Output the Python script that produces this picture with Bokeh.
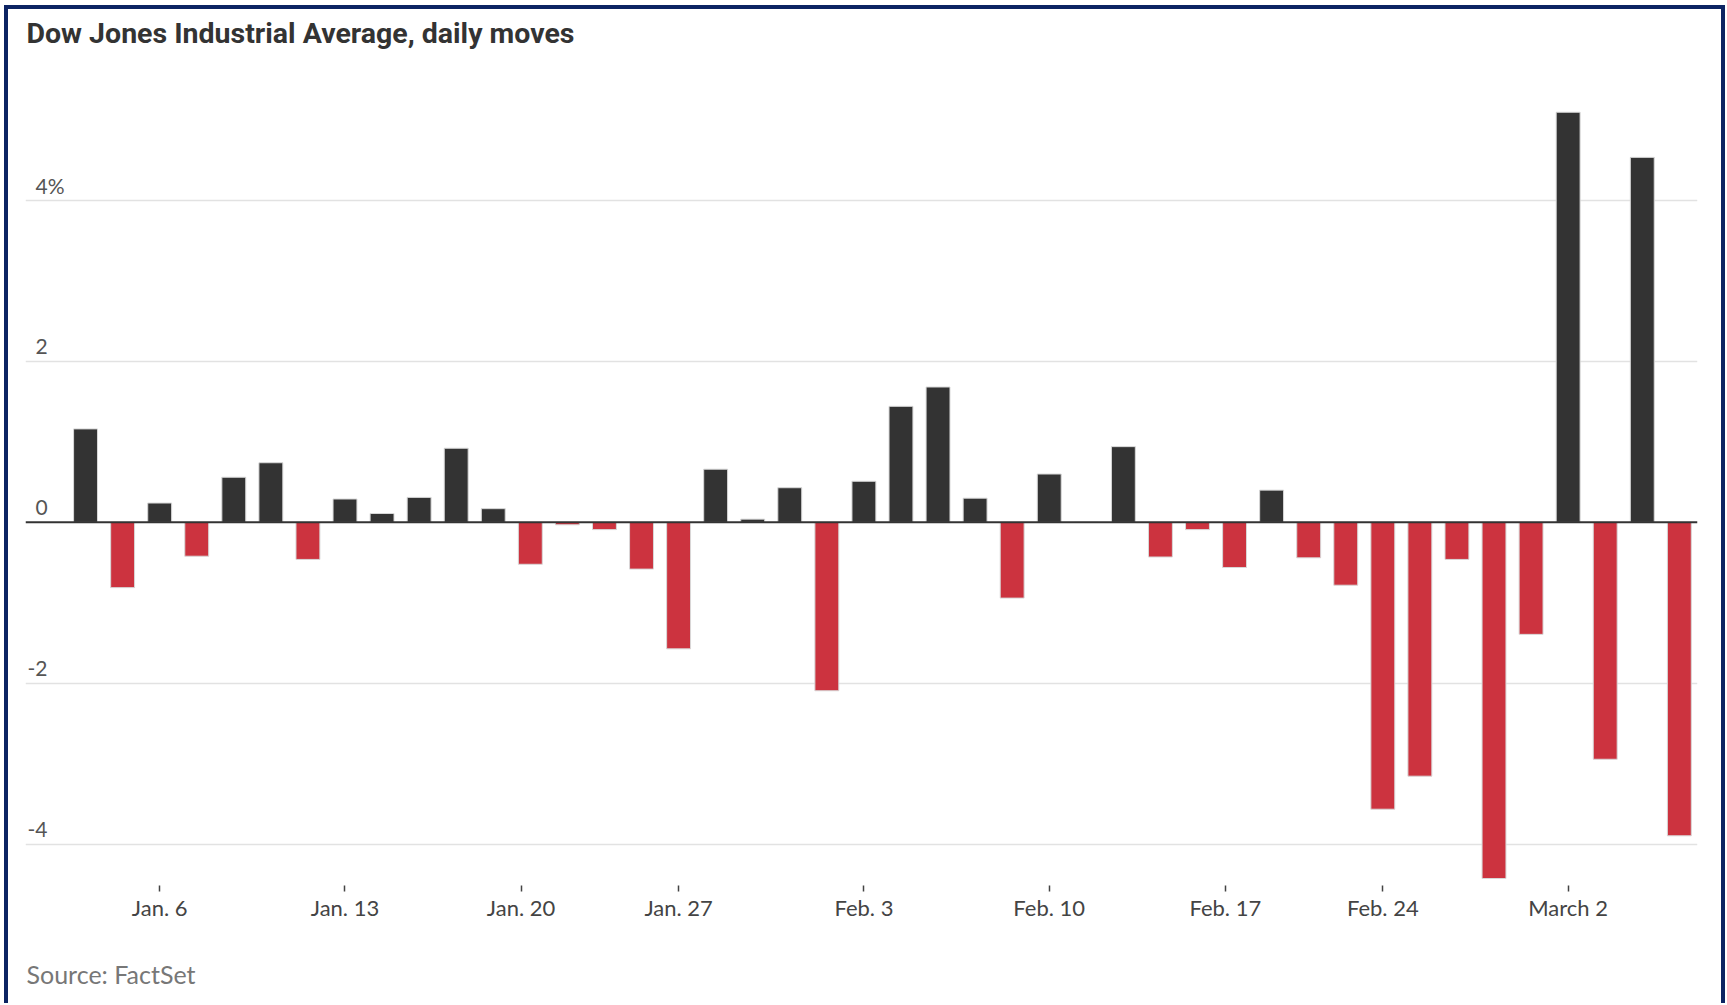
import datetime as dt
from bokeh.plotting import figure
from bokeh.models import Range1d, FixedTicker, Span, Title, ColumnDataSource
from bokeh.core.properties import value
from bokeh.embed import file_html
from bokeh.resources import INLINE

# ---- data -------------------------------------------------------------
dates = [
    "2020-01-02", "2020-01-03", "2020-01-06", "2020-01-07", "2020-01-08", "2020-01-09", "2020-01-10",
    "2020-01-13", "2020-01-14", "2020-01-15", "2020-01-16", "2020-01-17",
    "2020-01-21", "2020-01-22", "2020-01-23", "2020-01-24",
    "2020-01-27", "2020-01-28", "2020-01-29", "2020-01-30", "2020-01-31",
    "2020-02-03", "2020-02-04", "2020-02-05", "2020-02-06", "2020-02-07",
    "2020-02-10", "2020-02-11", "2020-02-12", "2020-02-13", "2020-02-14",
    "2020-02-18", "2020-02-19", "2020-02-20", "2020-02-21",
    "2020-02-24", "2020-02-25", "2020-02-26", "2020-02-27", "2020-02-28",
    "2020-03-02", "2020-03-03", "2020-03-04", "2020-03-05",
]
moves = [
    1.16, -0.81, 0.24, -0.42, 0.56, 0.74, -0.46,
    0.29, 0.11, 0.31, 0.92, 0.17,
    -0.52, -0.03, -0.09, -0.58,
    -1.57, 0.66, 0.04, 0.43, -2.09,
    0.51, 1.44, 1.68, 0.30, -0.94,
    0.60, 0.00, 0.94, -0.43, -0.09,
    -0.56, 0.40, -0.44, -0.78,
    -3.56, -3.15, -0.46, -4.42, -1.39,
    5.09, -2.94, 4.53, -3.89,
]
tick_dates = ["2020-01-06", "2020-01-13", "2020-01-20", "2020-01-27", "2020-02-03",
              "2020-02-10", "2020-02-17", "2020-02-24", "2020-03-02"]
tick_labels = ["Jan. 6", "Jan. 13", "Jan. 20", "Jan. 27", "Feb. 3",
               "Feb. 10", "Feb. 17", "Feb. 24", "March 2"]
y_ticks = [-4, -2, 0, 2, 4]
y_tick_labels = ["-4", "-2", "0", "2", "4%"]

title_text = "Dow Jones Industrial Average, daily moves"
source_text = "Source: FactSet"

# ---- derived ----------------------------------------------------------
day = [dt.date.fromisoformat(d) for d in dates]


def trading_pos(d):
    d = dt.date.fromisoformat(d)
    if d in day:
        return float(day.index(d))
    i = max(k for k, t in enumerate(day) if t < d)
    return i + (d - day[i]).days / (day[i + 1] - day[i]).days


tick_pos = [trading_pos(d) for d in tick_dates]

RED = "#cc333f"
DARK = "#333333"
src = ColumnDataSource(dict(
    x=list(range(len(moves))),
    top=moves,
    color=[DARK if v >= 0 else RED for v in moves],
))

# axis ranges (calibrated against the reference layout)
Y0 = (513.3 - 877.0) / 80.7
Y1 = (513.3 - 44.7) / 80.7
X0, X1 = -1.62, 43.49

p = figure(
    width=1713, height=994,
    x_range=Range1d(X0, X1), y_range=Range1d(Y0, Y1),
    output_backend="svg", toolbar_location=None,
    min_border_left=17, min_border_right=32, min_border_top=0, min_border_bottom=122,
    background_fill_color="white", border_fill_color="white",
)
p.outline_line_color = None

p.title.text = title_text
p.title.text_font = "Roboto"
p.title.text_font_size = "28.5px"
p.title.text_font_style = "bold"
p.title.text_color = "#333333"
p.title.align = "left"
p.title.offset = 1

p.add_layout(Title(text=source_text, align="left", text_font="Lato",
                   text_font_size="25px", text_font_style="normal",
                   text_color="#777777", offset=1, standoff=38), "below")

# grid
p.xgrid.visible = False
p.ygrid.ticker = FixedTicker(ticks=[t for t in y_ticks if t != 0])
p.ygrid.grid_line_color = "#e2e2e2"
p.ygrid.grid_line_width = 1.5

# bars
p.vbar(x="x", top="top", bottom=0, width=0.645, source=src,
       fill_color="color", line_color="#d8d8d8", line_width=1)

p.add_layout(Span(location=0, dimension="width", line_color="#333333", line_width=2))

# y labels inside plot
ylab = ColumnDataSource(dict(
    x=[X0] * len(y_ticks), y=y_ticks, text=y_tick_labels,
    xo=[2 if s.startswith("-") else 10 for s in y_tick_labels],
))
p.text(x="x", y="y", text="text", x_offset="xo", y_offset=-15, source=ylab,
       text_font=value("Lato"), text_font_size="21px",
       text_color="#555555", text_baseline="alphabetic", text_align="left")
p.yaxis.visible = False

# x axis
ax = p.xaxis[0]
ax.ticker = FixedTicker(ticks=tick_pos)
ax.major_label_overrides = {pos: lab for pos, lab in zip(tick_pos, tick_labels)}
ax.axis_line_color = None
ax.major_tick_in = 0
ax.major_tick_out = 6
ax.major_tick_line_color = "#444444"
ax.major_tick_line_width = 1.5
ax.minor_tick_line_color = None
ax.major_label_standoff = 2
ax.major_label_text_font = "Lato"
ax.major_label_text_font_size = "22px"
ax.major_label_text_color = "#444444"
# blank axis label used only as vertical spacing before the source line
ax.axis_label = "\u00a0"
ax.axis_label_standoff = 0
ax.axis_label_text_font = "Lato"
ax.axis_label_text_font_size = "9px"

p.styles = {
    "box-sizing": "content-box",
    "border-left": "4px solid #0c2463",
    "border-top": "4px solid #0c2463",
    "border-right": "4px solid #0c2463",
    "margin-left": "4px",
    "margin-top": "5px",
}

open("out.html", "w").write(file_html(p, INLINE))
